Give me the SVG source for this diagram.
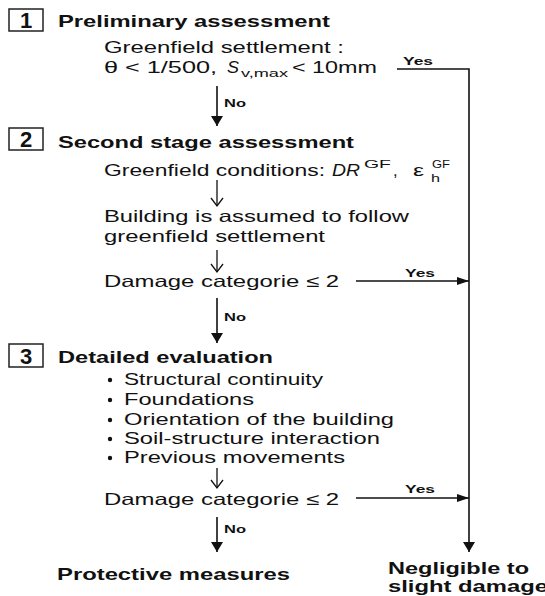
<svg xmlns="http://www.w3.org/2000/svg" width="545" height="596" viewBox="0 0 545 596">
<style>
text{font-family:"Liberation Sans",Arial,sans-serif;fill:#111}
.h{font-weight:bold;font-size:17px}
.t{font-size:16.5px}
.sm{font-size:11px}
.lb{font-weight:bold;font-size:11.5px}
.num{font-weight:bold;font-size:22px}
.box{fill:#fff;stroke:#222;stroke-width:1.5}
.ln{stroke:#111;stroke-width:1.6;fill:none}
.thin{stroke:#111;stroke-width:1.3;fill:none}
</style>
<defs>
<marker id="fh" markerUnits="userSpaceOnUse" markerWidth="12" markerHeight="12" refX="10" refY="6" orient="auto" overflow="visible"><path d="M0,0 L10,6 L0,12 z" fill="#111"/></marker>
<marker id="yh" markerUnits="userSpaceOnUse" markerWidth="12" markerHeight="8" refX="12" refY="4" orient="auto" overflow="visible"><path d="M0,0 L12,4 L0,8 z" fill="#111"/></marker>
<marker id="oh" markerUnits="userSpaceOnUse" markerWidth="9" markerHeight="12" refX="8" refY="6" orient="auto" overflow="visible"><path d="M0,0 L8,6 L0,12" fill="none" stroke="#111" stroke-width="1.3"/></marker>
</defs>
<rect width="545" height="596" fill="#fff"/>

<g id="connectors">
<path class="ln" d="M397,69 H469 V552" marker-end="url(#fh)"/>
<line class="ln" x1="217" y1="86" x2="217" y2="126" marker-end="url(#fh)"/>
<line class="thin" x1="217" y1="180" x2="217" y2="206" marker-end="url(#oh)"/>
<line class="thin" x1="217" y1="250" x2="217" y2="272" marker-end="url(#oh)"/>
<line class="ln" x1="356" y1="281" x2="469" y2="281" marker-end="url(#yh)"/>
<line class="ln" x1="217" y1="298" x2="217" y2="343" marker-end="url(#fh)"/>
<line class="thin" x1="217" y1="468" x2="217" y2="488" marker-end="url(#oh)"/>
<line class="ln" x1="356" y1="498" x2="469" y2="498" marker-end="url(#yh)"/>
<line class="ln" x1="217" y1="517" x2="217" y2="552" marker-end="url(#fh)"/>
<text class="lb" x="403" y="65" textLength="30" lengthAdjust="spacingAndGlyphs">Yes</text>
<text class="lb" x="224" y="107" textLength="22" lengthAdjust="spacingAndGlyphs">No</text>
<text class="lb" x="405" y="277" textLength="30" lengthAdjust="spacingAndGlyphs">Yes</text>
<text class="lb" x="224" y="321" textLength="22" lengthAdjust="spacingAndGlyphs">No</text>
<text class="lb" x="405" y="493" textLength="30" lengthAdjust="spacingAndGlyphs">Yes</text>
<text class="lb" x="224" y="533" textLength="22" lengthAdjust="spacingAndGlyphs">No</text>
</g>

<g id="step1">
<rect class="box" x="9" y="9" width="34" height="22"/>
<text class="num" x="26" y="28" text-anchor="middle">1</text>
<text class="h" x="58" y="27" textLength="272" lengthAdjust="spacingAndGlyphs">Preliminary assessment</text>
</g>

<g id="check1">
<text class="t" x="104" y="53" textLength="240" lengthAdjust="spacingAndGlyphs">Greenfield settlement :</text>
<text class="t" x="104" y="73" textLength="113" lengthAdjust="spacingAndGlyphs">θ &lt; 1/500,</text>
<text class="t" x="227" y="73" font-style="italic" textLength="12" lengthAdjust="spacingAndGlyphs">S</text>
<text class="sm" x="241" y="77" textLength="47" lengthAdjust="spacingAndGlyphs">v,max</text>
<text class="t" x="292" y="73" textLength="85" lengthAdjust="spacingAndGlyphs">&lt; 10mm</text>
</g>

<g id="step2">
<rect class="box" x="9" y="128" width="34" height="22"/>
<text class="num" x="26" y="147" text-anchor="middle">2</text>
<text class="h" x="58" y="148" textLength="296" lengthAdjust="spacingAndGlyphs">Second stage assessment</text>
</g>

<g id="conditions">
<text class="t" x="104" y="176" textLength="221" lengthAdjust="spacingAndGlyphs">Greenfield conditions:</text>
<text class="t" x="332" y="176" font-style="italic" textLength="28" lengthAdjust="spacingAndGlyphs">DR</text>
<text class="sm" x="364" y="168" textLength="27" lengthAdjust="spacingAndGlyphs">GF</text>
<text class="t" x="393" y="176">,</text>
<text class="t" x="413" y="176" textLength="11" lengthAdjust="spacingAndGlyphs">ε</text>
<text class="sm" x="432" y="168" textLength="18" lengthAdjust="spacingAndGlyphs">GF</text>
<text class="sm" x="431" y="182" textLength="9" lengthAdjust="spacingAndGlyphs">h</text>
</g>

<g id="assumption">
<text class="t" x="104" y="222" textLength="305" lengthAdjust="spacingAndGlyphs">Building is assumed to follow</text>
<text class="t" x="104" y="242" textLength="221" lengthAdjust="spacingAndGlyphs">greenfield settlement</text>
</g>

<g id="check2">
<text class="t" x="104" y="287" textLength="235" lengthAdjust="spacingAndGlyphs">Damage categorie ≤ 2</text>
</g>

<g id="step3">
<rect class="box" x="9" y="344" width="34" height="23"/>
<text class="num" x="26" y="364" text-anchor="middle">3</text>
<text class="h" x="58" y="363" textLength="215" lengthAdjust="spacingAndGlyphs">Detailed evaluation</text>
</g>

<g id="factors">
<circle cx="110" cy="380" r="2.2" fill="#111"/>
<circle cx="110" cy="400" r="2.2" fill="#111"/>
<circle cx="110" cy="420" r="2.2" fill="#111"/>
<circle cx="110" cy="439" r="2.2" fill="#111"/>
<circle cx="110" cy="458" r="2.2" fill="#111"/>
<text class="t" x="124" y="385" textLength="199" lengthAdjust="spacingAndGlyphs">Structural continuity</text>
<text class="t" x="124" y="405" textLength="130" lengthAdjust="spacingAndGlyphs">Foundations</text>
<text class="t" x="124" y="425" textLength="270" lengthAdjust="spacingAndGlyphs">Orientation of the building</text>
<text class="t" x="124" y="444" textLength="256" lengthAdjust="spacingAndGlyphs">Soil-structure interaction</text>
<text class="t" x="124" y="463" textLength="221" lengthAdjust="spacingAndGlyphs">Previous movements</text>
</g>

<g id="check3">
<text class="t" x="104" y="505" textLength="235" lengthAdjust="spacingAndGlyphs">Damage categorie ≤ 2</text>
</g>

<g id="protective">
<text class="h" x="57" y="580" textLength="233" lengthAdjust="spacingAndGlyphs">Protective measures</text>
</g>

<g id="negligible">
<text class="h" x="388" y="574" textLength="141" lengthAdjust="spacingAndGlyphs">Negligible to</text>
<text class="h" x="388" y="592" textLength="160" lengthAdjust="spacingAndGlyphs">slight damage</text>
</g>
</svg>
